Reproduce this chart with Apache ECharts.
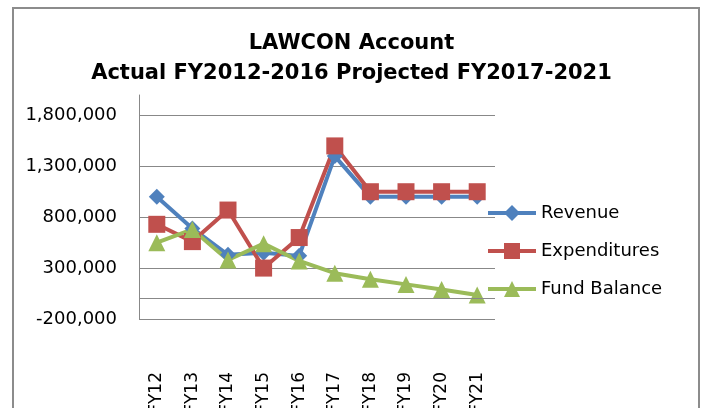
<!DOCTYPE html>
<html>
<head>
<meta charset="utf-8">
<script src="https://cdn.jsdelivr.net/npm/echarts@6/dist/echarts.min.js"></script>
<style>
  html, body { margin: 0; padding: 0; background: #ffffff; }
  #main { width: 703px; height: 408px; }
</style>
</head>
<body>
<div id="main"></div>
<script>
// data
const categories = ['FY12', 'FY13', 'FY14', 'FY15', 'FY16', 'FY17', 'FY18', 'FY19', 'FY20', 'FY21'];
const revenue = [1000000, 690000, 430000, 450000, 420000, 1400000, 1000000, 1000000, 1000000, 1000000];
const expenditures = [730000, 560000, 870000, 300000, 600000, 1500000, 1050000, 1050000, 1050000, 1050000];
const fundBalance = [550000, 680000, 380000, 540000, 370000, 250000, 190000, 140000, 90000, 35000];
const seriesNames = ['Revenue', 'Expenditures', 'Fund Balance'];
const colors = ['#4F81BD', '#C0504D', '#9BBB59'];

const chart = echarts.init(document.getElementById('main'));
const font = 'DejaVu Sans';

function lineSeries(name, data, symbol, size, color) {
  return {
    name: name,
    type: 'line',
    data: data,
    symbol: symbol,
    symbolSize: size,
    lineStyle: { width: 4, color: color },
    itemStyle: { color: color },
    z: 3
  };
}

const series = [
  lineSeries(seriesNames[0], revenue, 'diamond', 16, colors[0]),
  lineSeries(seriesNames[1], expenditures, 'rect', 17, colors[1]),
  lineSeries(seriesNames[2], fundBalance, 'triangle', 17, colors[2])
];
// horizontal axis crosses at zero in the original
series.push({
  type: 'line',
  data: [],
  silent: true,
  z: 1,
  markLine: {
    silent: true,
    symbol: 'none',
    label: { show: false },
    lineStyle: { color: '#888888', width: 1, type: 'solid' },
    data: [{ yAxis: 0 }]
  }
});

const option = {
  backgroundColor: '#ffffff',
  animation: false,
  color: colors,
  title: {
    text: 'LAWCON Account\nActual FY2012-2016 Projected FY2017-2021',
    left: 'center',
    top: 24,
    textStyle: {
      fontFamily: font,
      fontWeight: 'bold',
      fontSize: 21,
      lineHeight: 30,
      color: '#000000'
    }
  },
  legend: {
    orient: 'vertical',
    left: 486,
    top: 203,
    padding: 0,
    itemWidth: 48,
    itemHeight: 20,
    itemGap: 18,
    data: seriesNames,
    lineStyle: { width: 4 },
    textStyle: { fontFamily: font, fontSize: 18, color: '#000000', lineHeight: 20 }
  },
  // labels run off the bottom edge like the original, so keep the grid fixed
  grid: { left: 139, right: 208, top: 95, bottom: 89, outerBoundsMode: 'none' },
  xAxis: {
    type: 'category',
    data: categories,
    boundaryGap: true,
    axisLine: { show: false, onZero: false },
    axisTick: { show: false },
    axisLabel: {
      rotate: 90,
      margin: 53,
      interval: 0,
      fontFamily: font,
      fontSize: 17,
      color: '#000000'
    }
  },
  yAxis: {
    type: 'value',
    min: -200000,
    max: 2000000,
    interval: 500000,
    axisLine: { show: true, lineStyle: { color: '#888888', width: 1 } },
    axisTick: { show: false },
    splitLine: { show: true, showMaxLine: false, lineStyle: { color: '#888888', width: 1 } },
    axisLabel: {
      showMaxLabel: false,
      margin: 22,
      fontFamily: font,
      fontSize: 18,
      color: '#000000',
      formatter: function (v) { return v.toLocaleString('en-US'); }
    }
  },
  graphic: [{
    type: 'rect',
    shape: { x: 13, y: 8, width: 686, height: 420 },
    style: { fill: 'none', stroke: '#8c8c8c', lineWidth: 2 },
    silent: true
  }],
  series: series
};

chart.setOption(option);
</script>
</body>
</html>
